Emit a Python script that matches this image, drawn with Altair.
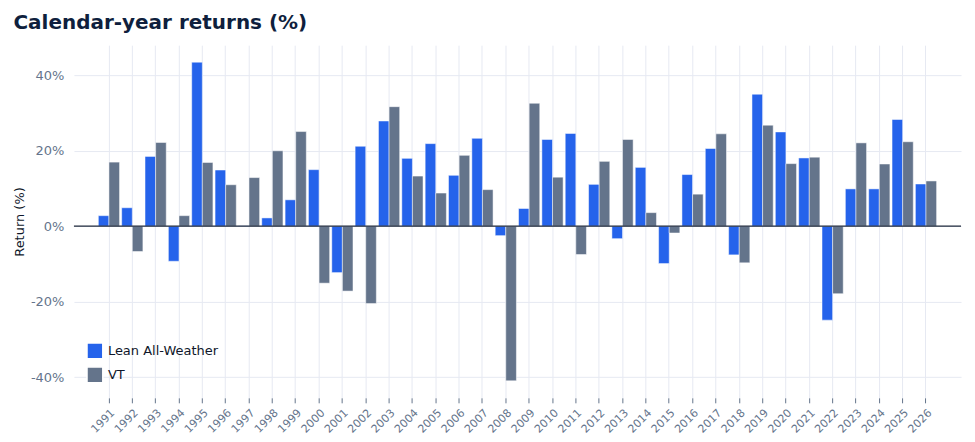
import altair as alt
import pandas as pd

YEARS = list(range(1991, 2027))
LEAN = [2.8, 4.9, 18.5, -9.3, 43.5, 14.9, 0.1, 2.2, 7.0, 15.0,
        -12.3, 21.2, 27.9, 18.0, 21.9, 13.5, 23.3, -2.5, 4.7, 23.0,
        24.6, 11.1, -3.3, 15.6, -9.9, 13.7, 20.6, -7.6, 35.0, 25.0,
        18.1, -24.9, 9.9, 9.9, 28.3, 11.2]
VT = [17.0, -6.7, 22.2, 2.8, 16.9, 11.0, 12.9, 20.0, 25.1, -15.1,
      -17.2, -20.5, 31.7, 13.3, 8.8, 18.8, 9.7, -41.0, 32.6, 13.0,
      -7.5, 17.2, 23.0, 3.6, -1.8, 8.5, 24.5, -9.7, 26.8, 16.6,
      18.3, -17.9, 22.1, 16.5, 22.4, 12.0]
SERIES = ["Lean All-Weather", "VT"]
COLORS = ["#2563eb", "#64748b"]

rows = []
for y, a, b in zip(YEARS, LEAN, VT):
    rows.append({"year": str(y), "series": SERIES[0], "ret": a})
    rows.append({"year": str(y), "series": SERIES[1], "ret": b})
df = pd.DataFrame(rows)

font = "DejaVu Sans"

bars = (
    alt.Chart(df)
    .mark_bar(stroke="white", strokeWidth=0.5)
    .encode(
        x=alt.X(
            "year:O",
            title=None,
            sort=[str(y) for y in YEARS],
            scale=alt.Scale(paddingInner=0, paddingOuter=1),
            axis=alt.Axis(labelAngle=-45, labelColor="#64748b", labelFontSize=11,
                          grid=True, gridColor="#e6e9f2", domain=False,
                          tickColor="#64748b", labelPadding=4),
        ),
        xOffset=alt.XOffset("series:N", sort=SERIES,
                            scale=alt.Scale(paddingOuter=0.1, paddingInner=0)),
        y=alt.Y(
            "ret:Q",
            title="Return (%)",
            scale=alt.Scale(domain=[-45.5, 48], nice=False),
            axis=alt.Axis(values=[-40, -20, 0, 20, 40], labelExpr="datum.value + '%'",
                          labelColor="#64748b", labelFontSize=13, titleFontSize=13,
                          titleFontWeight="normal", titleColor="#0f172a",
                          gridColor="#e6e9f2", domain=False, ticks=False, labelPadding=10),
        ),
        color=alt.Color(
            "series:N",
            sort=SERIES,
            scale=alt.Scale(domain=SERIES, range=COLORS),
            legend=alt.Legend(title=None, orient="bottom-left", labelFontSize=13,
                              symbolType="square", symbolSize=250, labelColor="#0f172a",
                              offset=12),
        ),
    )
)

zero = alt.Chart(pd.DataFrame({"z": [0]})).mark_rule(color="#1e293b", strokeWidth=1.2).encode(y="z:Q")

chart = (
    alt.layer(bars, zero)
    .properties(
        width=888,
        height=353,
        title=alt.TitleParams("Calendar-year returns (%)", anchor="start", fontSize=20,
                              fontWeight="bold", color="#0f1f3d", font=font, offset=12),
    )
    .configure(font=font)
    .configure_view(stroke=None)
)

chart.save("out.html", embed_options={"renderer": "svg", "actions": False})
